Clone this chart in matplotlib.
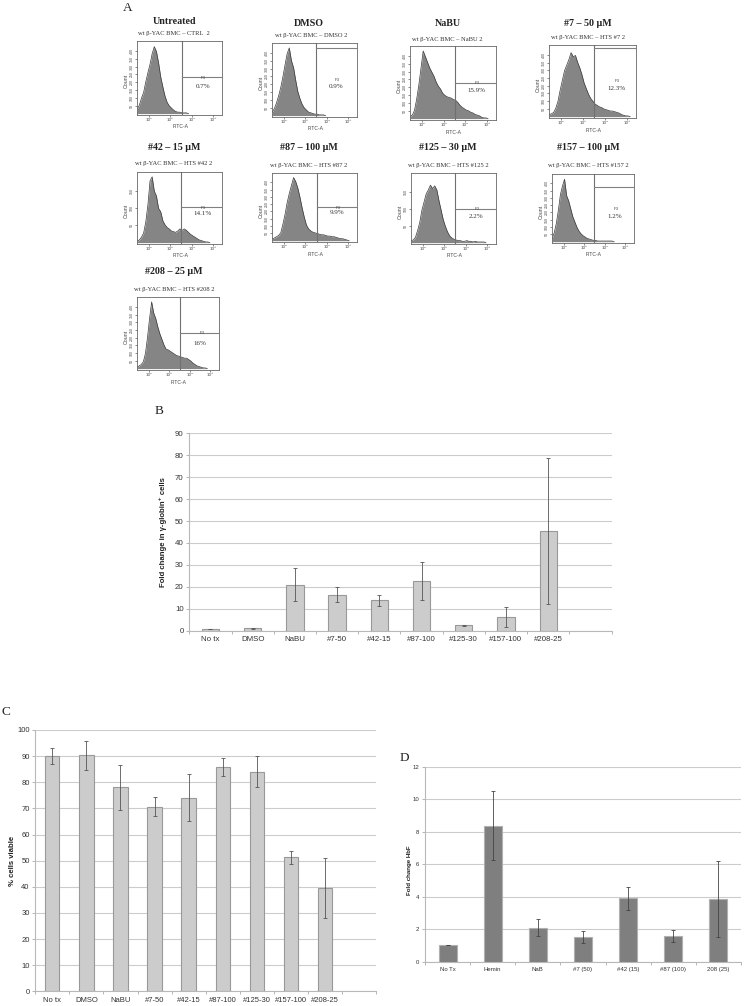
import numpy as np
import matplotlib
matplotlib.use("Agg")
import matplotlib.pyplot as plt

W, H = 745, 1006
SERIF = "Liberation Serif"
SANS = "Liberation Sans"

# panel A, histogram heights (percent of the plot height), one value per 0.1 log decade
fitc_start = 1.45
fitc_step = 0.1
untreated = [6, 12, 22, 30, 45, 58, 70, 85, 95, 88, 72, 52, 38, 25, 16, 11, 8, 5, 3, 2, 2, 1, 1, 1, 0]
dmso = [5, 10, 18, 28, 40, 55, 72, 88, 96, 78, 68, 50, 34, 24, 16, 11, 8, 5, 4, 3, 2, 2, 1, 1, 1, 0]
nabu = [3, 5, 12, 28, 48, 72, 96, 88, 80, 72, 66, 60, 52, 46, 42, 36, 33, 31, 30, 29, 27, 26, 23, 19, 16, 14, 12, 11, 9, 8, 6, 5, 4, 2, 1, 1, 0]
c7 = [3, 4, 6, 12, 22, 38, 52, 66, 74, 82, 92, 86, 88, 78, 70, 60, 48, 40, 32, 26, 22, 18, 16, 14, 13, 11, 10, 9, 8, 8, 7, 6, 5, 3, 2, 1, 1, 0]
c42 = [2, 4, 8, 14, 30, 55, 90, 96, 75, 68, 50, 45, 32, 26, 22, 20, 17, 16, 15, 17, 20, 18, 20, 18, 15, 12, 10, 8, 6, 4, 3, 2, 1, 1, 0]
c87 = [3, 4, 6, 8, 12, 25, 40, 58, 72, 84, 96, 90, 80, 66, 50, 36, 24, 18, 15, 13, 12, 11, 10, 9, 9, 8, 7, 7, 6, 6, 5, 4, 3, 3, 2, 1, 0]
c125 = [3, 4, 8, 18, 30, 48, 60, 72, 78, 85, 80, 84, 78, 62, 48, 34, 24, 16, 10, 7, 5, 4, 3, 3, 2, 2, 3, 2, 2, 1, 2, 1, 1, 1, 1, 0]
c157 = [5, 14, 28, 48, 72, 85, 95, 70, 62, 50, 38, 30, 22, 16, 12, 9, 7, 5, 4, 3, 2, 2, 1, 1, 1, 1, 1, 1, 1, 1, 0]
c208 = [2, 4, 6, 10, 22, 45, 72, 96, 80, 72, 60, 50, 42, 34, 28, 27, 25, 23, 21, 19, 18, 17, 16, 15, 15, 13, 11, 8, 6, 4, 3, 2, 1, 1, 0]

flow_hists = [untreated, dmso, nabu, c7, c42, c87, c125, c157, c208]
flow_titles = ["Untreated", "DMSO", "NaBU", "#7 – 50 µM", "#42 – 15 µM", "#87 – 100 µM",
               "#125 – 30 µM", "#157 – 100 µM", "#208 – 25 µM"]
flow_samples = ["CTRL  2", "DMSO 2", "NaBU 2", "HTS #7 2", "HTS #42 2", "HTS #87 2",
                "HTS #125 2", "HTS #157 2", "HTS #208 2"]
flow_pct = ["0.7%", "0.9%", "15.9%", "12.3%", "14.1%", "9.9%", "2.2%", "1.2%", "16%"]

# panel B
b_labels = ["No tx", "DMSO", "NaBU", "#7-50", "#42-15", "#87-100", "#125-30", "#157-100", "#208-25"]
b_values = [1, 1.1, 21, 16.5, 13.8, 22.6, 2.4, 6.1, 45.5]
b_errors = [0, 0.2, 7.4, 3.2, 2.6, 8.7, 0.2, 4.6, 33.4]

# panel C
c_labels = ["No tx", "DMSO", "NaBU", "#7-50", "#42-15", "#87-100", "#125-30", "#157-100", "#208-25"]
c_values = [90, 90.3, 78, 70.7, 74, 85.7, 84, 51.3, 39.5]
c_errors = [3.2, 5.5, 8.5, 3.8, 9, 3.4, 6, 2.5, 11.5]

# panel D
d_labels = ["No Tx", "Hemin", "NaB", "#7 (50)", "#42 (15)", "#87 (100)", "208 (25)"]
d_values = [1, 8.37, 2.1, 1.53, 3.9, 1.57, 3.85]
d_errors = [0, 2.13, 0.53, 0.35, 0.7, 0.37, 2.35]

# pixel layout of the flow plots: left, right, top, bottom, gate x, gate y
flow_boxes = [
    (137, 222, 41, 115, 182, 77), (272, 357, 43, 117, 316, 48), (410, 496, 46, 120, 455, 83),
    (549, 636, 45, 118, 594, 48), (137, 222, 172, 244, 181, 207), (272, 357, 173, 242, 317, 207),
    (411, 496, 173, 244, 455, 209), (552, 634, 174, 243, 594, 187), (137, 219, 297, 370, 180, 333),
]
title_xy = [(174, 21), (309, 23), (448, 23), (588, 23), (174, 147), (309, 147), (448, 147), (588, 147), (174, 272)]
sample_xy = [(174, 33), (311, 36), (447, 39), (588, 38), (174, 163), (309, 165), (448, 165), (588, 165), (174, 289)]
p3_xy = [(203, 78), (337, 80), (477, 83), (617, 81), (203, 208), (338, 208), (477, 209), (616, 209), (202, 333)]
pct_xy = [(203, 86), (336, 86), (476, 90), (617, 88), (203, 214), (337, 213), (476, 216), (615, 217), (200, 344)]
ytick_counts = [8, 8, 8, 8, 3, 8, 3, 8, 8]


def add_axes_px(fig, left, right, top, bottom):
    return fig.add_axes([left / W, 1 - bottom / H, (right - left) / W, (bottom - top) / H])


def text_px(fig, x, y, s, **kw):
    kw.setdefault("ha", "center")
    kw.setdefault("va", "center")
    fig.text(x / W, 1 - y / H, s, **kw)


def flow_plot(fig, i):
    left, right, top, bottom, gate_x, gate_y = flow_boxes[i]
    ax = add_axes_px(fig, left, right, top, bottom)
    vals = flow_hists[i]
    x = [fitc_start + fitc_step * k for k in range(len(vals))]
    ax.fill_between(x, vals, color="#858585", lw=0)
    ax.plot(x, vals, color="#3a3a3a", lw=0.5)
    ax.set_xlim(1.44, 5.42)
    ax.set_ylim(-2, 103)

    # gate lines in data units, from the pixel layout
    gx = 1.44 + (gate_x - left) / (right - left) * (5.42 - 1.44)
    gy = -2 + (bottom - gate_y) / (bottom - top) * 105
    ax.plot([gx, gx], [-2, 103], color="#707070", lw=0.8)
    ax.plot([gx, 5.42], [gy, gy], color="#808080", lw=0.8)

    ax.set_xticks([2, 3, 4, 5])
    ax.set_xticklabels(["10²", "10³", "10⁴", "10⁵"], fontsize=3, color="#444444", fontfamily="DejaVu Sans")
    ax.tick_params(axis="x", length=1.5, width=0.4, pad=0.5, color="#333333")
    n = ytick_counts[i]
    ticks = [100 * (k + 1) / (n + 1) for k in range(n)]
    ax.set_yticks(ticks)
    ax.set_yticklabels([str(50 * (k + 1)) for k in range(n)], fontsize=2.6, rotation=90, va="center",
                       color="#444444", fontfamily=SANS)
    ax.tick_params(axis="y", length=1.5, width=0.4, pad=0.5, color="#333333")
    for s in ax.spines.values():
        s.set_linewidth(0.6)
        s.set_color("#666666")

    text_px(fig, (left + right) / 2 + 1, bottom + 12, "FITC-A", fontsize=3.6, color="#444444", fontfamily=SANS)
    text_px(fig, left - 11, (top + bottom) / 2 + 3, "Count", fontsize=3.8, rotation=90, color="#444444", fontfamily=SANS)
    text_px(fig, *title_xy[i], flow_titles[i], fontsize=7.2, fontweight="bold", fontfamily=SERIF, color="#222222")
    text_px(fig, *sample_xy[i], "wt β-YAC BMC – " + flow_samples[i], fontsize=4.7, fontfamily=SERIF, color="#333333")
    text_px(fig, *p3_xy[i], "P3", fontsize=3, fontfamily=SANS, color="#444444")
    text_px(fig, *pct_xy[i], flow_pct[i], fontsize=5, fontfamily=SERIF, color="#333333")


def bar_plot(fig, box, labels, values, errors, ymax, ystep, n_slots, width, color, edge, fs, err_color):
    ax = add_axes_px(fig, *box)
    pos = np.arange(len(values))
    ax.bar(pos, values, width=width, color=color, edgecolor=edge, linewidth=0.8, zorder=3)
    ax.errorbar(pos, values, yerr=errors, fmt="none", ecolor=err_color, elinewidth=0.6, capsize=1.1,
                capthick=0.6, zorder=4)
    ax.set_xlim(-0.5, n_slots - 0.5)
    ax.set_ylim(0, ymax)
    ax.set_yticks(np.arange(0, ymax + 1, ystep))
    ax.yaxis.grid(True, color="#cccccc", lw=0.8, zorder=0)
    ax.set_axisbelow(True)
    ax.set_xticks(pos)
    ax.set_xticklabels(labels, fontsize=fs, fontfamily=SANS, color="#333333")
    ax.set_xticks(np.arange(-0.5, n_slots), minor=True)
    ax.tick_params(axis="x", which="major", length=0, pad=4)
    ax.tick_params(axis="x", which="minor", length=2, width=0.6, color="#aaaaaa")
    ax.tick_params(axis="y", length=2, width=0.6, color="#aaaaaa", pad=2, labelsize=fs, labelcolor="#333333")
    for t in ax.get_yticklabels():
        t.set_fontfamily(SANS)
    ax.spines["top"].set_visible(False)
    ax.spines["right"].set_visible(False)
    ax.spines["left"].set_color("#b8b8b8")
    ax.spines["bottom"].set_color("#b8b8b8")
    return ax


def main():
    fig = plt.figure(figsize=(W / 100, H / 100), dpi=100)

    for i in range(len(flow_hists)):
        flow_plot(fig, i)

    bar_plot(fig, (189.3, 611.5, 433.3, 630.7), b_labels, b_values, b_errors, 90, 10, 10, 0.41,
             "#cccccc", "#999999", 5.7, "#555555")
    bar_plot(fig, (35.3, 376, 730, 991.3), c_labels, c_values, c_errors, 100, 10, 10, 0.42,
             "#cccccc", "#999999", 5.5, "#555555")
    bar_plot(fig, (425, 741, 766.7, 961.7), d_labels, d_values, d_errors, 12, 2, 7, 0.4,
             "#7f7f7f", "#b0b0b0", 4.3, "#444444")

    text_px(fig, 163, 532, "Fold change in γ-globin⁺ cells", fontsize=5.6, fontweight="bold", rotation=90,
            fontfamily=[SANS, "DejaVu Sans"], color="#222222")
    text_px(fig, 12, 861, "% cells viable", fontsize=5.6, fontweight="bold", rotation=90, fontfamily=SANS, color="#222222")
    text_px(fig, 409, 870, "Fold change HbF", fontsize=4.4, fontweight="bold", rotation=90, fontfamily=SANS, color="#222222")

    text_px(fig, 128, 8, "A", fontsize=9.5, fontfamily=SERIF, color="#222222")
    text_px(fig, 159, 411, "B", fontsize=9.5, fontfamily=SERIF, color="#222222")
    text_px(fig, 6, 712, "C", fontsize=9.5, fontfamily=SERIF, color="#222222")
    text_px(fig, 404, 758, "D", fontsize=9.5, fontfamily=SERIF, color="#222222")

    fig.savefig("out.png", dpi=100)


if __name__ == "__main__":
    main()
